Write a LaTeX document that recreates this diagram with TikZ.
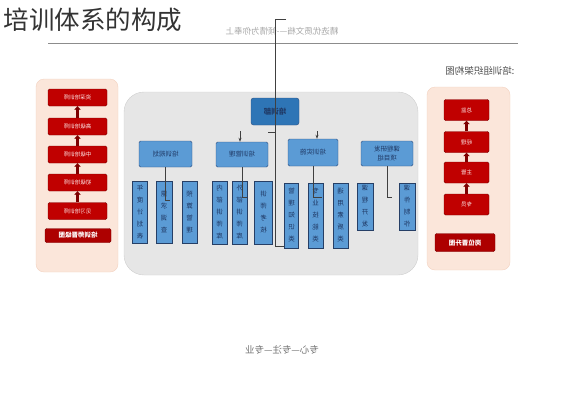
\documentclass[tikz,border=0pt]{standalone}
\usepackage{fontspec}
\setmainfont{Noto Sans CJK SC}
\usetikzlibrary{arrows.meta}
\definecolor{peach}{HTML}{FBE6DA}
\definecolor{peachedge}{HTML}{F3D2C0}
\definecolor{panelgray}{HTML}{E6E6E6}
\definecolor{boxred}{HTML}{C00000}
\definecolor{darkred}{HTML}{7E0000}
\definecolor{boxblue}{HTML}{5B9BD5}
\definecolor{headblue}{HTML}{2E75B6}
\definecolor{edgeblue}{HTML}{2F4F7F}
\definecolor{navy}{HTML}{1F3864}
\newcommand{\rev}[1]{\reflectbox{#1}}
\newcommand{\vtxt}[1]{\reflectbox{\parbox{1em}{\centering #1}}}

\begin{document}
\begin{tikzpicture}[x=1pt,y=-1pt,
  redbox/.style={draw=darkred,fill=boxred,rounded corners=1.5pt,text=red!8,font=\fontsize{5.5}{6}\selectfont,minimum width=59pt,minimum height=17pt,inner sep=0pt},
  redlabel/.style={draw=darkred,fill=boxred!90!black,rounded corners=1.5pt,text=white,font=\fontsize{6.5}{7}\selectfont\bfseries,minimum width=66pt,minimum height=14pt,inner sep=0pt},
  headbox/.style={draw=edgeblue,fill=headblue,rounded corners=2.5pt,text=navy,font=\fontsize{7.5}{8}\selectfont\bfseries,minimum width=48pt,minimum height=27pt,inner sep=0pt},
  midbox/.style={draw=edgeblue,fill=boxblue,rounded corners=1.5pt,text=navy,font=\fontsize{6.5}{9}\selectfont,minimum width=52pt,minimum height=25pt,inner sep=0pt},
  colbox/.style={draw=edgeblue!80!black,fill=boxblue,text=navy,font=\fontsize{6.5}{12}\selectfont,minimum width=15pt,inner sep=0pt},
  uparrow/.style={draw=darkred,line width=2.6pt,-{Triangle[length=3.5pt,width=6.5pt]}},
  link/.style={draw=black!75,line width=0.6pt}]
\useasboundingbox (0,0) rectangle (565,400);

% Title and page header
\node[anchor=west,text=black!80,font=\fontsize{25.5}{26}\selectfont] (title) at (0,20) {培训体系的构成};
\node[text=black!35,font=\fontsize{8.5}{9}\selectfont] (header) at (282,31) {\rev{精选优质文档----倾情为你奉上}};
\coordinate (rulestart) at (48,43);
\coordinate (ruleend) at (518,43);
\draw[black!45,line width=0.6pt] (rulestart) -- (ruleend);
\node[anchor=east,text=black!70,font=\fontsize{9.5}{10}\selectfont] (charttitle) at (518,71) {\rev{:培训组织架构图}};

% Panels
\filldraw[fill=peach,draw=peachedge,rounded corners=8pt] (36,79) rectangle (118,272);
\filldraw[fill=peach,draw=peachedge,rounded corners=8pt] (427,87) rectangle (510,270);
\filldraw[fill=panelgray,draw=panelgray!90!black,rounded corners=20pt] (124,92) rectangle (418,275);

% Left ladder
\node[redbox] (l1) at (77.5,97.5) {\rev{资深培训师}};
\node[redbox] (l2) at (77.5,126.5) {\rev{高级培训师}};
\node[redbox] (l3) at (77.5,154.5) {\rev{中级培训师}};
\node[redbox] (l4) at (77.5,182.5) {\rev{初级培训师}};
\node[redbox] (l5) at (77.5,211) {\rev{见习培训师}};
\node[redlabel] (lt) at (78,235.5) {\rev{培训师晋级图}};
\draw[uparrow] (l5) -- (l4);
\draw[uparrow] (l4) -- (l3);
\draw[uparrow] (l3) -- (l2);
\draw[uparrow] (l2) -- (l1);

% Right ladder
\node[redbox,minimum width=45pt,minimum height=21pt] (r1) at (466.5,110) {\rev{总监}};
\node[redbox,minimum width=45pt,minimum height=21pt] (r2) at (466.5,142) {\rev{经理}};
\node[redbox,minimum width=45pt,minimum height=21pt] (r3) at (466.5,172.5) {\rev{主管}};
\node[redbox,minimum width=45pt,minimum height=21pt] (r4) at (466.5,204.5) {\rev{专员}};
\node[redlabel,minimum width=60pt,minimum height=18pt] (rt) at (465,242.5) {\rev{岗位晋升图}};
\draw[uparrow] (r4) -- (r3);
\draw[uparrow] (r3) -- (r2);
\draw[uparrow] (r2) -- (r1);

% Centre chart
\node[headbox] (top) at (275,111.5) {\rev{培训部}};
\node[midbox,minimum width=53pt,minimum height=26pt] (b1) at (165.5,154) {\rev{培训规划}};
\node[midbox] (b2) at (242,154.5) {\rev{培训管理}};
\node[midbox,minimum width=50pt,minimum height=27pt] (b3) at (313,152.5) {\rev{培训实施}};
\node[midbox] (b4) at (387,153.5) {\rev{\shortstack{课程研发\\项目组}}};

\node[colbox,minimum height=62pt] (c1) at (140,212) {\vtxt{年\\度\\计\\划\\表}};
\node[colbox,minimum height=62pt,minimum width=16pt] (c2) at (164,212) {\vtxt{需\\求\\调\\查}};
\node[colbox,minimum height=62pt] (c3) at (189.5,212) {\vtxt{预\\算\\管\\理}};
\node[colbox,minimum height=63pt] (c4) at (219.5,212.5) {\vtxt{内\\部\\讲\\师\\库}};
\node[colbox,minimum height=63pt] (c5) at (239.5,212.5) {\vtxt{外\\部\\讲\\师\\库}};
\node[colbox,minimum height=63pt,minimum width=18pt] (c6) at (263.5,212.5) {\vtxt{讲\\师\\考\\核}};
\node[colbox,minimum height=65pt,minimum width=14pt] (c7) at (291.5,215.5) {\vtxt{管\\理\\知\\识\\类}};
\node[colbox,minimum height=65pt] (c8) at (315.5,215.5) {\vtxt{专\\业\\技\\能\\类}};
\node[colbox,minimum height=65pt] (c9) at (340.5,215.5) {\vtxt{通\\用\\素\\质\\类}};
\node[colbox,minimum height=47pt,minimum width=16pt] (c10) at (365,206.5) {\vtxt{课\\程\\开\\发}};
\node[colbox,minimum height=47pt,minimum width=16pt] (c11) at (407,206.5) {\vtxt{课\\件\\制\\作}};

% Connectors
\coordinate (hooktop) at (286,19);
\coordinate (hookbend) at (275,19);
\coordinate (hookfoot) at (275,246);
\coordinate (tick) at (268,132);
\draw[link] (hooktop) -- (hookbend) -- (hookfoot) -- (hookfoot -| c7.west);
\draw[link] (tick) -- (tick -| hookbend);

\coordinate (in2) at (240,131);
\coordinate (in3) at (317,131);
\draw[link,-{Stealth[length=4pt,width=3pt]}] (in2) -- (in2 |- b2.north);
\draw[link,-{Stealth[length=4pt,width=3pt]}] (in3) -- (in3 |- b3.north);

\coordinate (k1) at (170,200);
\coordinate (k2) at (247,197);
\coordinate (k3) at (322,197);
\coordinate (k4) at (392,197);
\draw[link] (b1.south) |- (k1);
\draw[link] (b2.south) |- (k2);
\draw[link] (b3.south) |- (k3);
\draw[link] (b4.south) |- (k4);

% Footer
\node[text=black!55,font=\fontsize{9.5}{10}\selectfont] (footer) at (282,350) {\rev{专心---专注---专业}};

\end{tikzpicture}
\end{document}
